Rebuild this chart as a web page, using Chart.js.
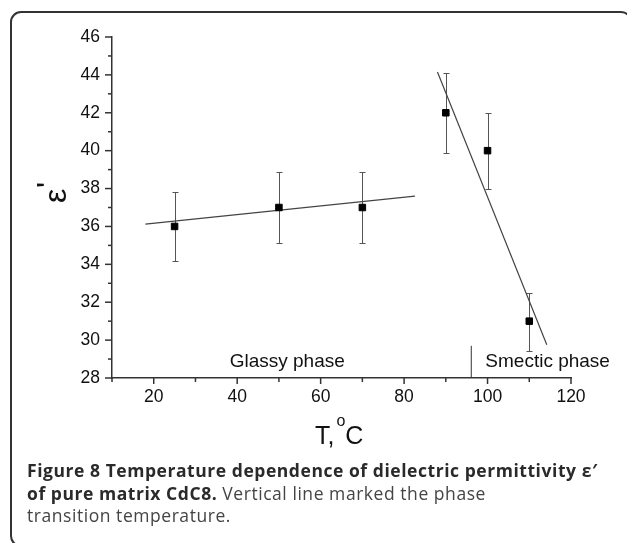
<!DOCTYPE html>
<html>
<head>
<meta charset="utf-8">
<script src="https://cdn.jsdelivr.net/npm/chart.js@4"></script>
<style>
  body { margin: 0; background: #fff; width: 627px; height: 543px; overflow: hidden; position: relative; }
  #frame {
    position: absolute; left: 10px; top: 11px; width: 622px; height: 536px;
    border: 2px solid #333; border-radius: 11px; box-sizing: border-box;
  }
  #plot { position: absolute; left: 0; top: 0; }
  #caption {
    position: absolute; left: 27px; top: 459px;
    font-family: "Open Sans", sans-serif; font-size: 17.5px; line-height: 22.5px;
    letter-spacing: 0.55px; color: #444; white-space: nowrap;
  }
  #caption b { color: #2a2a2a; }
</style>
</head>
<body>
<div id="frame"></div>
<canvas id="plot" width="627" height="460"></canvas>
<div id="caption"><b>Figure 8 Temperature dependence of dielectric permittivity ε′</b><br><b>of pure matrix CdC8.</b> Vertical line marked the phase<br>transition temperature.</div>

<script>
// ==========================
// DATA
// ==========================
const temps = [25, 50, 70, 90, 100, 110];
const eps = [36, 37, 37, 42, 40, 31];
const errLow = [34.2, 35.15, 35.15, 39.9, 38.0, 29.45];
const errHigh = [37.8, 38.85, 38.85, 44.1, 42.0, 32.5];

// linear fits (end points)
const glassyFitX = [18, 82.6];
const glassyFitY = [36.12, 37.6];
const smecticFitX = [88, 114.2];
const smecticFitY = [44.15, 29.75];

// phase transition marker
const transitionX = [96.1, 96.1];
const transitionY = [28, 29.7];

const xTickLabels = [20, 40, 60, 80, 100, 120];
const yTickLabels = [28, 30, 32, 34, 36, 38, 40, 42, 44, 46];

const phaseLabels = ["Glassy phase", "Smectic phase"];
const phaseLabelX = [52, 114.4];

const FONT = "'Liberation Sans', Arial, sans-serif";

// ==========================
// HELPER
// ==========================
function toPoints(xs, ys) {
  return xs.map((x, i) => ({ x: x, y: ys[i] }));
}

// ==========================
// PLUGIN: error bars, ticks, labels
// ==========================
const decorPlugin = {
  id: "decor",
  beforeDatasetsDraw(chart) {
    const ctx = chart.ctx;
    const xs = chart.scales.x;
    const ys = chart.scales.y;
    ctx.save();
    ctx.strokeStyle = "#555";
    ctx.lineWidth = 1;
    temps.forEach((t, i) => {
      const px = Math.round(xs.getPixelForValue(t)) + 0.5;
      const top = Math.round(ys.getPixelForValue(errHigh[i])) + 0.5;
      const bot = Math.round(ys.getPixelForValue(errLow[i])) + 0.5;
      ctx.beginPath();
      ctx.moveTo(px, top);
      ctx.lineTo(px, bot);
      ctx.moveTo(px - 3, top);
      ctx.lineTo(px + 3, top);
      ctx.moveTo(px - 3, bot);
      ctx.lineTo(px + 3, bot);
      ctx.stroke();
    });
    ctx.restore();
  },
  afterDraw(chart) {
    const ctx = chart.ctx;
    const xs = chart.scales.x;
    const ys = chart.scales.y;
    const area = chart.chartArea;
    ctx.save();
    ctx.strokeStyle = "#333";
    ctx.lineWidth = 1.5;

    // y ticks (major every 2, minor every 1)
    for (let v = 28; v <= 46; v++) {
      const py = ys.getPixelForValue(v);
      const len = v % 2 === 0 ? 7 : 4;
      ctx.beginPath();
      ctx.moveTo(area.left, py);
      ctx.lineTo(area.left - len, py);
      ctx.stroke();
    }
    // x ticks (major every 20, minor every 10)
    for (let v = 10; v <= 120; v += 10) {
      const px = xs.getPixelForValue(v);
      const len = v % 20 === 0 ? 6 : 4;
      ctx.beginPath();
      ctx.moveTo(px, area.bottom);
      ctx.lineTo(px, area.bottom + len);
      ctx.stroke();
    }

    // phase labels
    ctx.fillStyle = "#111";
    ctx.font = "19px " + FONT;
    ctx.textAlign = "center";
    ctx.textBaseline = "alphabetic";
    phaseLabels.forEach((lbl, i) => {
      ctx.fillText(lbl, xs.getPixelForValue(phaseLabelX[i]), area.bottom - 11);
    });

    // x title: T,°C
    ctx.textAlign = "left";
    const base = 444;
    let x0 = 315;
    ctx.font = "25px " + FONT;
    ctx.fillText("T,", x0, base);
    x0 += ctx.measureText("T,").width + 2;
    ctx.font = "16px " + FONT;
    ctx.fillText("o", x0, base - 18);
    x0 += ctx.measureText("o").width;
    ctx.font = "25px " + FONT;
    ctx.fillText("C", x0, base);

    // y title: ε'
    ctx.translate(66, 203);
    ctx.rotate(-Math.PI / 2);
    ctx.font = "32px " + FONT;
    ctx.fillText("ε", 0, 0);
    ctx.fillText("'", 15, -7);
    ctx.restore();
  }
};

// ==========================
// CHART
// ==========================
const lineStyle = {
  showLine: true,
  pointRadius: 0,
  borderColor: "#444",
  borderWidth: 1.2,
  fill: false
};

new Chart(document.getElementById("plot"), {
  type: "scatter",
  data: {
    datasets: [
      {
        label: "ε'",
        data: toPoints(temps, eps),
        pointStyle: "rect",
        pointRadius: 4.6,
        pointBackgroundColor: "#000",
        pointBorderColor: "#000",
        pointBorderWidth: 1
      },
      Object.assign({ label: "Glassy fit", data: toPoints(glassyFitX, glassyFitY) }, lineStyle),
      Object.assign({ label: "Smectic fit", data: toPoints(smecticFitX, smecticFitY) }, lineStyle),
      Object.assign({ label: "Transition", data: toPoints(transitionX, transitionY) }, lineStyle, { borderColor: "#333", borderWidth: 1 })
    ]
  },
  options: {
    responsive: false,
    animation: false,
    devicePixelRatio: 1,
    layout: { padding: { left: 0, top: 37, right: 56, bottom: 0 } },
    plugins: {
      legend: { display: false },
      tooltip: { enabled: false }
    },
    scales: {
      x: {
        type: "linear",
        min: 10,
        max: 120,
        afterFit: (s) => { s.height = 82; },
        grid: { display: false, drawTicks: false },
        border: { color: "#333", width: 1.5 },
        ticks: {
          stepSize: 10,
          autoSkip: false,
          maxRotation: 0,
          padding: 9,
          color: "#111",
          font: { family: FONT, size: 17.5 },
          callback: (v) => (xTickLabels.includes(v) ? v : "")
        }
      },
      y: {
        type: "linear",
        min: 28,
        max: 46,
        afterFit: (s) => { s.width = 112; },
        grid: { display: false, drawTicks: false },
        border: { color: "#333", width: 1.5 },
        ticks: {
          stepSize: 2,
          padding: 12,
          color: "#111",
          font: { family: FONT, size: 17.5 },
          callback: (v) => (yTickLabels.includes(v) ? v : "")
        }
      }
    }
  },
  plugins: [decorPlugin]
});
</script>
</body>
</html>
